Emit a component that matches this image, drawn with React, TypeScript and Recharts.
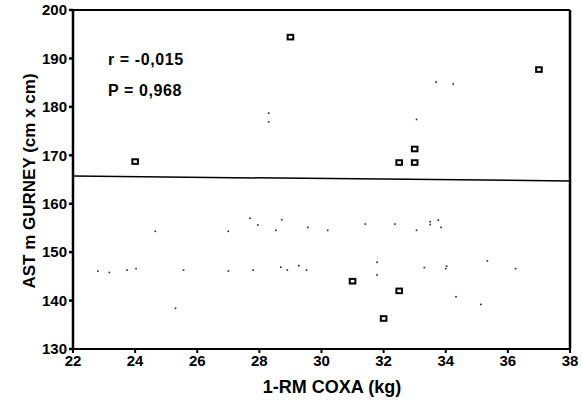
import React from 'react';
import { ScatterChart, Scatter, XAxis, YAxis, ReferenceLine } from 'recharts';

// 1-RM coxa (kg) vs AST m Gurney (cm x cm)
const squareX = [24, 29, 37, 33, 32.5, 33, 31, 32.5, 32];
const squareY = [168.7, 194.4, 187.7, 171.3, 168.5, 168.5, 144, 142, 136.3];

const dotX = [
  22.8, 23.17, 23.74, 24.03, 24.65, 25.3, 25.56, 27.0, 27.0, 27.7, 27.8, 27.95, 28.53, 28.72,
  28.69, 28.9, 29.27, 29.52, 29.56, 30.2, 31.41, 31.79, 31.79, 32.36, 33.06, 33.5, 33.5, 33.76,
  33.85, 33.31, 34.03, 34.0, 35.34, 36.25, 34.33, 35.13, 28.3, 28.3, 33.69, 34.24, 33.06,
];
const dotY = [
  146.1, 145.8, 146.3, 146.6, 154.3, 138.4, 146.3, 154.3, 146.1, 157.0, 146.3, 155.6, 154.5, 156.7,
  146.9, 146.3, 147.2, 146.3, 155.1, 154.5, 155.8, 147.9, 145.3, 155.8, 154.5, 156.3, 155.7, 156.6,
  155.1, 146.8, 147.1, 146.6, 148.2, 146.6, 140.8, 139.2, 178.7, 176.9, 185.1, 184.7, 177.4,
];

const xTicks = [22, 24, 26, 28, 30, 32, 34, 36, 38];
const yTicks = [130, 140, 150, 160, 170, 180, 190, 200];

// regression line ends
const fitLine = [
  { x: 22, y: 165.7 },
  { x: 38, y: 164.7 },
];

const squares = squareX.map((x, i) => ({ x, y: squareY[i] }));
const dots = dotX.map((x, i) => ({ x, y: dotY[i] }));

const font = 'Arial, "Liberation Sans", Helvetica, sans-serif';
const tickStyle = { fill: '#000', fontSize: 15, fontWeight: 700, fontFamily: font };

const SquareMark = (props: any) => (
  <rect x={props.cx - 2.8} y={props.cy - 2.3} width={5.6} height={4.6} fill="none" stroke="#000" strokeWidth={2} />
);

const DotMark = (props: any) => (
  <rect x={props.cx - 0.8} y={props.cy - 0.8} width={1.6} height={1.6} fill="#222" />
);

export default function App() {
  return (
    <div style={{ position: 'absolute', left: 0, top: 0, background: '#fff' }}>
      <ScatterChart width={582} height={401} margin={{ top: 10, right: 12, bottom: 22, left: 33 }}>
        <XAxis
          type="number"
          dataKey="x"
          domain={[22, 38]}
          ticks={xTicks}
          allowDataOverflow
          stroke="#000"
          strokeWidth={2}
          tickSize={4}
          height={30}
          tick={tickStyle}
        />
        <YAxis
          type="number"
          dataKey="y"
          domain={[130, 200]}
          ticks={yTicks}
          allowDataOverflow
          stroke="#000"
          strokeWidth={2.5}
          tickSize={4}
          width={40}
          tick={tickStyle}
        />
        <ReferenceLine y={200} stroke="#000" strokeWidth={2} />
        <ReferenceLine x={38} stroke="#000" strokeWidth={2.5} />
        <ReferenceLine segment={fitLine} stroke="#000" strokeWidth={1.5} />
        <Scatter data={dots} shape={DotMark} isAnimationActive={false} />
        <Scatter data={squares} shape={SquareMark} isAnimationActive={false} />
        <text x={108} y={65} fontFamily={font} fontSize={16} fontWeight={700} letterSpacing={0.6} fill="#000">
          r = -0,015
        </text>
        <text x={108} y={96} fontFamily={font} fontSize={16} fontWeight={700} letterSpacing={0.6} fill="#000">
          P = 0,968
        </text>
        <text
          x={29}
          y={181}
          transform="rotate(-90 29 181)"
          textAnchor="middle"
          dominantBaseline="central"
          fontFamily={font}
          fontSize={17}
          fontWeight={600}
          fill="#000"
        >
          AST m GURNEY (cm x cm)
        </text>
        <text x={332} y={393} textAnchor="middle" fontFamily={font} fontSize={18} fontWeight={600} fill="#000">
          1-RM COXA (kg)
        </text>
      </ScatterChart>
    </div>
  );
}
